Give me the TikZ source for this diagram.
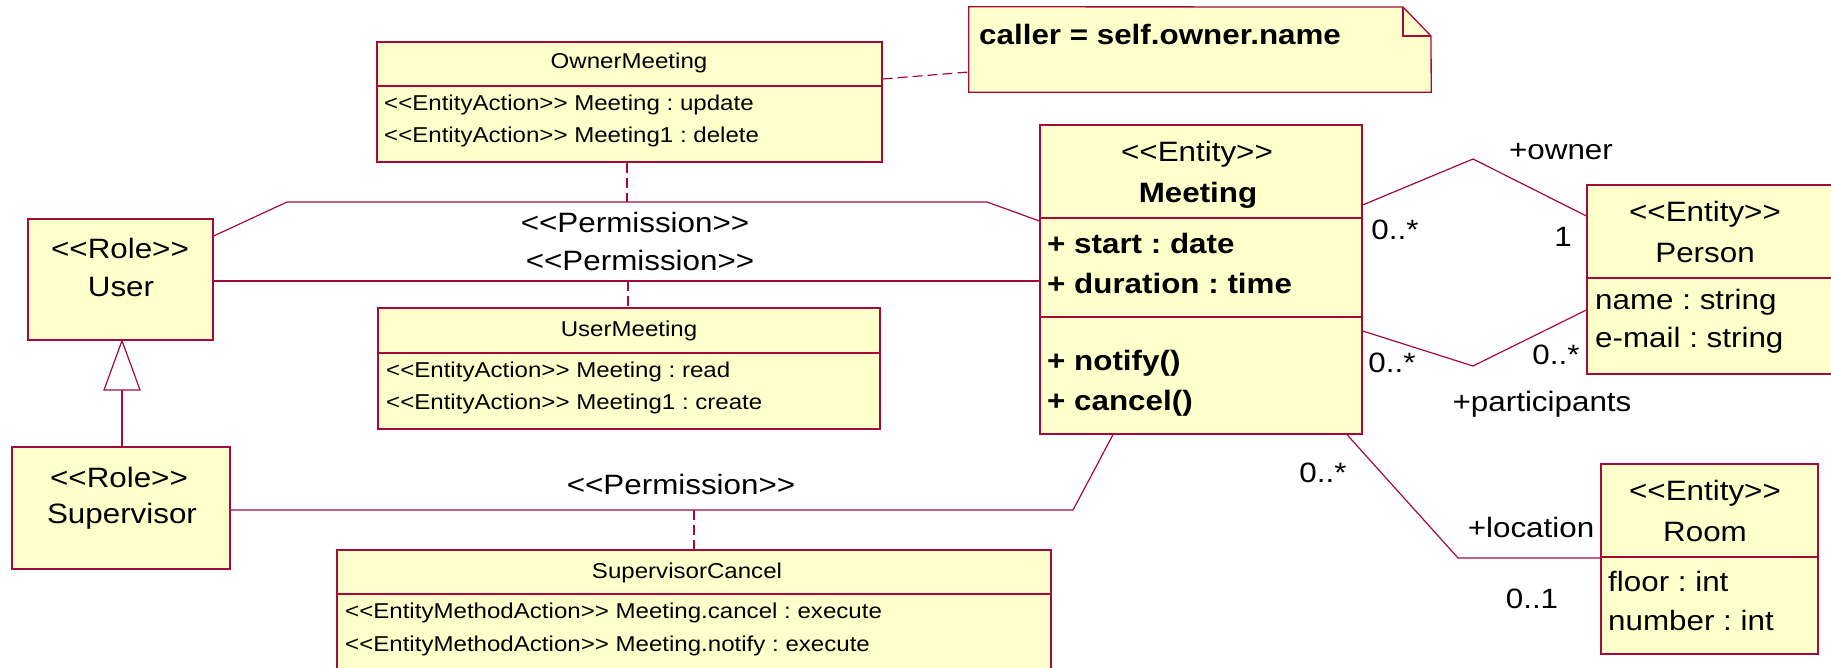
\documentclass[tikz,border=0pt]{standalone}
\usepackage{fontspec}
\setmainfont{Liberation Sans}[FakeStretch=1.12, Ligatures=TeXOff]
\definecolor{umlred}{RGB}{165,10,60}
\definecolor{umlfill}{RGB}{255,255,204}
\frenchspacing
\tikzset{
  umlbox/.style={draw=umlred, fill=umlfill, line width=1.3pt, inner sep=0pt, rectangle},
  conn/.style={draw=umlred, line width=1.2pt},
  dconn/.style={draw=umlred, line width=1.2pt, dash pattern=on 10pt off 5pt},
  divl/.style={draw=umlred, line width=1.2pt},
  lbl/.style={inner sep=0pt, font=\fontsize{28}{34}\selectfont},
  bld/.style={inner sep=0pt, font=\fontsize{28}{34}\selectfont\bfseries},
  sml/.style={inner sep=0pt, font=\fontsize{21.5}{26}\selectfont}
}
\begin{document}
\begin{tikzpicture}[x=1pt,y=-1pt]
\useasboundingbox (0,0) rectangle (1831,668);
\clip (0,0) rectangle (1831,668);

% ---------- boxes ----------
\node[umlbox, minimum width=505, minimum height=120] (om) at (629.5,102) {};
\node[umlbox, minimum width=502, minimum height=121] (um) at (629,368.5) {};
\node[umlbox, minimum width=714, minimum height=160] (sc) at (694,630) {};
\node[umlbox, minimum width=185, minimum height=121] (user) at (120.5,279.5) {};
\node[umlbox, minimum width=218, minimum height=122] (sup) at (121,508) {};
\node[umlbox, minimum width=322, minimum height=309] (meeting) at (1201,279.5) {};
\node[umlbox, minimum width=263, minimum height=189] (person) at (1718.5,279.5) {};
\node[umlbox, minimum width=217, minimum height=190] (room) at (1709.5,559) {};

% note
\node[inner sep=0pt, minimum width=462, minimum height=85] (note) at (1200,49.5) {};
\path[umlbox] (note.north west) -- (1403,7) -- (1431,36) -- (note.south east) -- (note.south west) -- cycle;
\draw[divl] (1403,7) -- (1403,36) -- (1431,36);

% dividers
\draw[divl] (om.west |- 0,86) -- (om.east |- 0,86);
\draw[divl] (um.west |- 0,353) -- (um.east |- 0,353);
\draw[divl] (sc.west |- 0,594) -- (sc.east |- 0,594);
\draw[divl] (meeting.west |- 0,218) -- (meeting.east |- 0,218);
\draw[divl] (meeting.west |- 0,317) -- (meeting.east |- 0,317);
\draw[divl] (person.west |- 0,278) -- (person.east |- 0,278);
\draw[divl] (room.west |- 0,557) -- (room.east |- 0,557);

% ---------- texts in boxes ----------
\node[sml] (omt) at (629,63) {OwnerMeeting};
\node[sml, anchor=west] (om1) at (384,105) {<<EntityAction>> Meeting : update};
\node[sml, anchor=west] (om2) at (384,137) {<<EntityAction>> Meeting1 : delete};

\node[sml] (umt) at (629,331) {UserMeeting};
\node[sml, anchor=west] (um1) at (386,372) {<<EntityAction>> Meeting : read};
\node[sml, anchor=west] (um2) at (386,404) {<<EntityAction>> Meeting1 : create};

\node[sml] (sct) at (687,573) {SupervisorCancel};
\node[sml, anchor=west] (sc1) at (345,613) {<<EntityMethodAction>> Meeting.cancel : execute};
\node[sml, anchor=west] (sc2) at (345,646) {<<EntityMethodAction>> Meeting.notify : execute};

\node[lbl] (ur) at (120,248) {<<Role>>};
\node[lbl] (un) at (121,287) {User};
\node[lbl] (sr) at (119,477) {<<Role>>};
\node[lbl] (sn) at (122,516) {Supervisor};

\node[lbl] (me) at (1197,154) {<<Entity>>};
\node[bld] (mn) at (1198,195) {Meeting};
\node[bld, anchor=west] (ma1) at (1047,243) {+ start : date};
\node[bld, anchor=west] (ma2) at (1047,283) {+ duration : time};
\node[bld, anchor=west] (mo1) at (1047,363) {+ notify()};
\node[bld, anchor=west] (mo2) at (1047,403) {+ cancel()};

\node[lbl] (pe) at (1705,214) {<<Entity>>};
\node[lbl] (pn) at (1705,253) {Person};
\node[lbl, anchor=west] (pa1) at (1595,302) {name : string};
\node[lbl, anchor=west] (pa2) at (1595,340) {e-mail : string};

\node[lbl] (re) at (1705,493) {<<Entity>>};
\node[lbl] (rn) at (1705,532) {Room};
\node[lbl, anchor=west] (ra1) at (1608,581) {floor : int};
\node[lbl, anchor=west] (ra2) at (1608,620) {number : int};

\node[bld, anchor=west] (nt) at (979,34) {caller = self.owner.name};

% ---------- connectors ----------
\draw[dconn] (om.east |- 0,79) -- (note.west |- 0,72);
% permission 1 (User - Meeting)
\draw[conn] (user.east |- 0,236) -- (287,202) coordinate (p1a) -- (987,202) coordinate (p1b) -- (meeting.west |- 0,221);
\coordinate (p1m) at (627,202);
\draw[dconn] (om.south -| p1m) -- (p1m);
% permission 2
\draw[conn] (user.east |- 0,281) coordinate (p2a) -- (meeting.west |- 0,281);
\coordinate (p2m) at (628,281);
\draw[dconn] (p2m) -- (um.north -| p2m);
% permission 3 (Supervisor - Meeting)
\draw[conn] (sup.east |- 0,510) -- (1073,510) -- (meeting.south -| 1113,0);
\coordinate (p3m) at (694,510);
\draw[dconn] (p3m) -- (sc.north -| p3m);
% generalization
\draw[conn] (sup.north -| 122,0) -- (122,390);
\draw[conn, fill=white] (104,390) -- (140,390) -- (user.south -| 122,0) -- cycle;
% owner
\draw[conn] (meeting.east |- 0,205) -- (1473,159) -- (person.west |- 0,216);
% participants
\draw[conn] (meeting.east |- 0,331) -- (1473,366) -- (person.west |- 0,310);
% location
\draw[conn] (meeting.south -| 1347,0) -- (1458,558) -- (room.west |- 0,558);

% ---------- labels ----------
\node[lbl] (l1) at (635,222) {<<Permission>>};
\node[lbl] (l2) at (640,260) {<<Permission>>};
\node[lbl] (l3) at (681,484) {<<Permission>>};
\node[lbl] (lo) at (1561,152) {+owner};
\node[lbl] (m1) at (1395,230) {0..*};
\node[lbl] (m2) at (1563,237) {1};
\node[lbl] (m3) at (1392,363) {0..*};
\node[lbl] (m4) at (1556,355) {0..*};
\node[lbl] (lp) at (1542,404) {+participants};
\node[lbl] (m5) at (1323,473) {0..*};
\node[lbl] (ll) at (1531,527) {+location};
\node[lbl] (m6) at (1532,599) {0..1};
\end{tikzpicture}
\end{document}
